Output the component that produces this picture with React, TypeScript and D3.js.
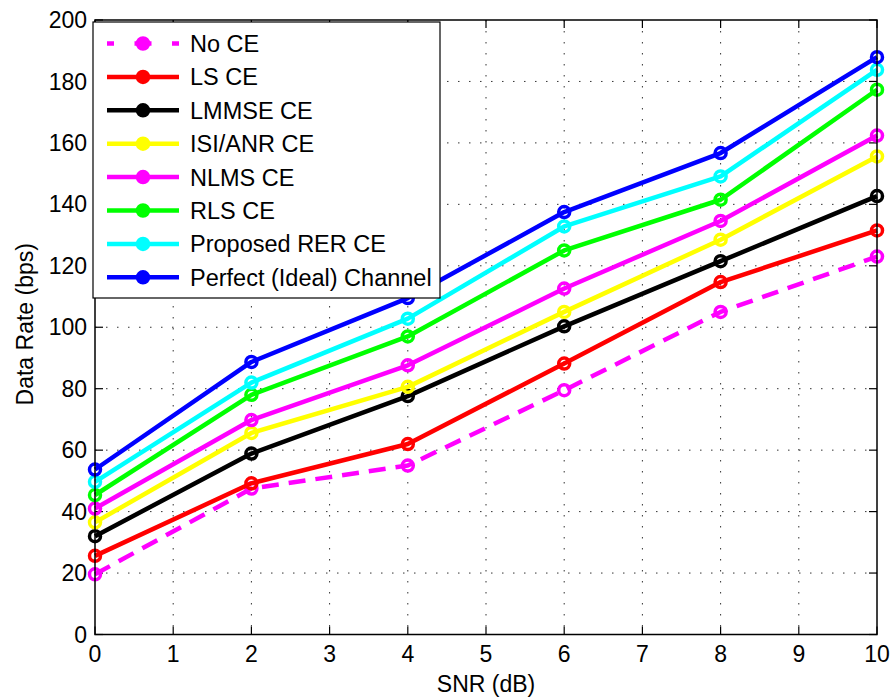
import React from 'react';
import * as d3 from 'd3';

// chart size
const svgWidth = 891;
const svgHeight = 697;
const margin = { left: 95, right: 14, top: 20, bottom: 62.5 };
const plotW = svgWidth - margin.left - margin.right;
const plotH = svgHeight - margin.top - margin.bottom;

// data
const snr = [0, 2, 4, 6, 8, 10];
const noCE = [19.6, 47.5, 55, 79.5, 105, 123];
const lsCE = [25.6, 49.2, 62, 88.2, 114.7, 131.5];
const lmmseCE = [32, 58.9, 77.6, 100.3, 121.5, 142.7];
const isiCE = [36.5, 65.6, 80.6, 105, 128.5, 155.6];
const nlmsCE = [41, 69.8, 87.6, 112.6, 134.6, 162.4];
const rlsCE = [45.4, 78, 97, 125, 141.5, 177.3];
const rerCE = [49.7, 82, 102.8, 132.8, 149.1, 183.8];
const perfect = [53.7, 88.7, 109.5, 137.5, 156.7, 187.9];

const seriesNames = ['No CE', 'LS CE', 'LMMSE CE', 'ISI/ANR CE', 'NLMS CE', 'RLS CE', 'Proposed RER CE', 'Perfect (Ideal) Channel'];
const seriesValues = [noCE, lsCE, lmmseCE, isiCE, nlmsCE, rlsCE, rerCE, perfect];
const seriesColors = ['#ff00ff', '#ff0000', '#000000', '#ffff00', '#ff00ff', '#00ff00', '#00ffff', '#0000ff'];

const xTicks = d3.range(0, 11, 1);
const yTicks = d3.range(0, 201, 20);

const font = '"Liberation Sans", Arial, sans-serif';

const x = d3.scaleLinear().domain([0, 10]).range([0, plotW]);
const y = d3.scaleLinear().domain([0, 200]).range([plotH, 0]);

const line = d3.line<number>()
    .x((d, i) => x(snr[i]))
    .y(d => y(d));

const App = () => {
    const tickLen = 8;
    const legend = { x: -2, y: 2, w: 347, h: 276, row: 33.4 };

    return (
        <svg width={svgWidth} height={svgHeight} style={{ position: 'absolute', left: 0, top: 0, background: '#fff' }}>
            <g transform={`translate(${margin.left},${margin.top})`} fontFamily={font}>
                {/* grid */}
                {xTicks.slice(1, -1).map(t => (
                    <line key={'gx' + t} x1={x(t)} x2={x(t)} y1={0} y2={plotH}
                        stroke="#333" strokeWidth={1} strokeDasharray="1.5,9.5" />
                ))}
                {yTicks.slice(1, -1).map(t => (
                    <line key={'gy' + t} x1={0} x2={plotW} y1={y(t)} y2={y(t)}
                        stroke="#333" strokeWidth={1} strokeDasharray="1.5,9.5" />
                ))}

                {/* ticks, inward on all four sides */}
                {xTicks.map(t => (
                    <g key={'tx' + t}>
                        <line x1={x(t)} x2={x(t)} y1={plotH} y2={plotH - tickLen} stroke="#000" strokeWidth={1.2} />
                        <line x1={x(t)} x2={x(t)} y1={0} y2={tickLen} stroke="#000" strokeWidth={1.2} />
                        <text x={x(t)} y={plotH + 27.5} textAnchor="middle" fontSize={23}>{t}</text>
                    </g>
                ))}
                {yTicks.map(t => (
                    <g key={'ty' + t}>
                        <line x1={0} x2={tickLen} y1={y(t)} y2={y(t)} stroke="#000" strokeWidth={1.2} />
                        <line x1={plotW} x2={plotW - tickLen} y1={y(t)} y2={y(t)} stroke="#000" strokeWidth={1.2} />
                        <text x={-8} y={y(t)} dy="0.35em" textAnchor="end" fontSize={23}>{t}</text>
                    </g>
                ))}

                {/* series */}
                {seriesValues.map((vals, s) => (
                    <g key={'s' + s}>
                        <path d={line(vals) || ''} fill="none" stroke={seriesColors[s]} strokeWidth={4.5}
                            strokeLinejoin="round" strokeDasharray={s === 0 ? '17,10' : undefined} />
                        {vals.map((v, i) => (
                            <circle key={i} cx={x(snr[i])} cy={y(v)} r={5.5} fill="none"
                                stroke={seriesColors[s]} strokeWidth={3.5} />
                        ))}
                    </g>
                ))}

                {/* axes box */}
                <rect x={0} y={0} width={plotW} height={plotH} fill="none" stroke="#000" strokeWidth={1.5} />

                {/* legend */}
                <g transform={`translate(${legend.x},${legend.y})`}>
                    <rect x={0} y={0} width={legend.w} height={legend.h} fill="#fff" stroke="#000" strokeWidth={1.2} />
                    {seriesNames.map((name, s) => {
                        const cy = 21.5 + s * legend.row;
                        return (
                            <g key={'l' + s}>
                                <line x1={14} x2={86} y1={cy} y2={cy} stroke={seriesColors[s]} strokeWidth={4.5}
                                    strokeDasharray={s === 0 ? '7,20.5,17,20.5,7' : undefined} />
                                <circle cx={50} cy={cy} r={5.5} fill={seriesColors[s]} stroke={seriesColors[s]} strokeWidth={3.5} />
                                <text x={97} y={cy} dy="0.36em" fontSize={23.5}>{name}</text>
                            </g>
                        );
                    })}
                </g>

                {/* axis labels */}
                <text x={plotW / 2} y={plotH + 57.5} textAnchor="middle" fontSize={23}>SNR (dB)</text>
                <text transform={`translate(${33 - margin.left},${plotH / 2 - 3}) rotate(-90)`} textAnchor="middle" fontSize={23}>Data Rate (bps)</text>
            </g>
        </svg>
    );
};

export default App;
